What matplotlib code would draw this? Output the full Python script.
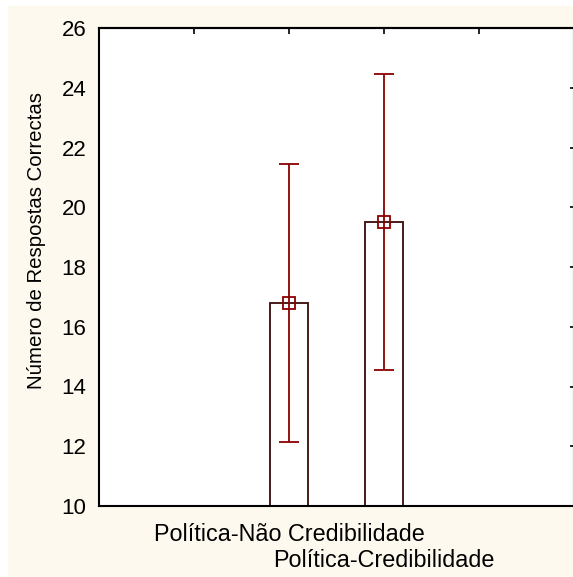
import numpy as np
import matplotlib
matplotlib.use('Agg')
import matplotlib.pyplot as plt
from matplotlib.patches import Rectangle

# dados
categories = ["Política-Não Credibilidade", "Política-Credibilidade"]
means = np.array([16.8, 19.5])
lower = np.array([12.15, 14.55])
upper = np.array([21.45, 24.45])
yticks = [10, 12, 14, 16, 18, 20, 22, 24, 26]

plt.rcParams['font.family'] = ['Liberation Sans', 'DejaVu Sans']

W, H = 573, 577
fig = plt.figure(figsize=(W / 100, H / 100), dpi=100, facecolor='#fdf9ee')
# faixa branca em cima e à esquerda
fig.patches.append(Rectangle((0, (H - 6) / H), 1, 6 / H, transform=fig.transFigure,
                             facecolor='white', edgecolor='none', zorder=-10))
fig.patches.append(Rectangle((0, 0), 8 / W, 1, transform=fig.transFigure,
                             facecolor='white', edgecolor='none', zorder=-10))

ax = fig.add_axes([99 / W, (H - 506) / H, 475 / W, 478 / H])
ax.set_facecolor('white')

x = np.arange(1, len(categories) + 1)
ax.bar(x, means, width=0.4, color='white', edgecolor='#3c0a0a', linewidth=1.3, zorder=2)
ax.errorbar(x, means, yerr=[means - lower, upper - means], fmt='s', mfc='none',
            mec='#8b0000', ecolor='#8b0000', ms=8.5, mew=1.3, elinewidth=1.3,
            capsize=7, capthick=1.3, zorder=3)

ax.set_xlim(-1, 4)
ax.set_ylim(10, 26)
ax.set_yticks(yticks)
ax.tick_params(axis='y', left=False, right=True, direction='in', length=3,
               labelsize=16, pad=9, width=1.2)
# rótulos escalonados: o primeiro como tick maior, o segundo como menor, mais abaixo
ax.set_xticks([x[0]], [categories[0]])
ax.set_xticks([x[1]], [categories[1]], minor=True)
ax.tick_params(axis='x', which='major', bottom=False, top=False, labelsize=16.8, pad=9)
ax.tick_params(axis='x', which='minor', bottom=False, top=False, labelsize=16.8, pad=29)

top = ax.secondary_xaxis('top')
top.set_xticks([0, 1, 2, 3])
top.tick_params(direction='in', length=4, width=1.2, labeltop=False)

for s in ax.spines.values():
    s.set_linewidth(1.5)
top.spines['top'].set_linewidth(1.5)

ax.set_ylabel("Número de Respostas Correctas", fontsize=14.7)
ax.yaxis.set_label_coords(-0.112, 0.556)

fig.savefig("out.png", dpi=100, facecolor=fig.get_facecolor())
